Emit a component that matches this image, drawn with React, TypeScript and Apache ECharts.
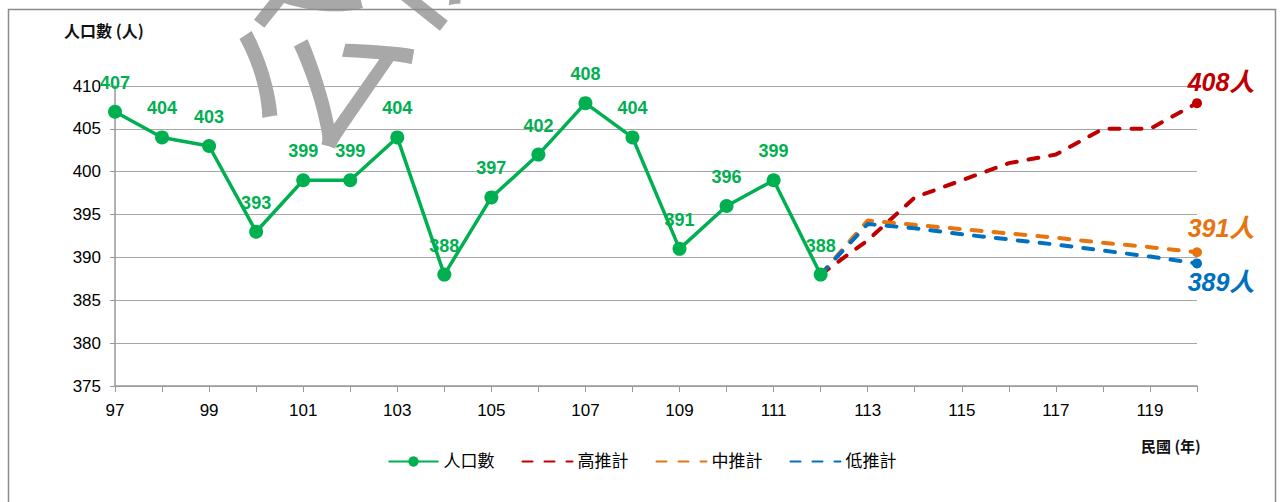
import React, { useEffect, useRef } from "react";
import * as echarts from "echarts";

const years = [97, 98, 99, 100, 101, 102, 103, 104, 105, 106, 107, 108, 109, 110, 111, 112];
const population = [407, 404, 403, 393, 399, 399, 404, 388, 397, 402, 408, 404, 391, 396, 399, 388];
const projYears = [112, 113, 114, 115, 116, 117, 118, 119, 120];
const highProj = [388, 392, 397, 399, 401, 402, 405, 405, 408];
const midProj = [388, 394.3, 393.8, 393.3, 392.8, 392.3, 391.7, 391.2, 390.6];
const lowProj = [388, 393.9, 393.4, 392.7, 392.1, 391.5, 390.8, 390.1, 389.3];
const endLabels = ["408人", "391人", "389人"];
const seriesNames = ["人口數", "高推計", "中推計", "低推計"];

const GREEN = "#00B050";
const RED = "#C00000";
const ORANGE = "#E8740F";
const BLUE = "#0070C0";
const LATIN = "'Liberation Sans', Arial, sans-serif";
const CJK = "'Liberation Sans', 'Noto Sans CJK TC', sans-serif";

function pairs(xs: number[], ys: number[]) {
  return xs.map((x, i) => [x, ys[i]]);
}

export default function App() {
  const ref = useRef<HTMLDivElement>(null);
  useEffect(() => {
    if (!ref.current) return;
    const chart = echarts.init(ref.current, null, { renderer: "svg" });
    const dashed = (color: string) => ({
      color,
      width: 4,
      type: [10, 12] as any,
      cap: "round" as any,
    });
    const lastX = projYears[projYears.length - 1];
    const endPoint = (name: string, val: number, color: string, text: string, offset: number[]) => ({
      name: name + "_end",
      type: "scatter",
      data: [[lastX, val]],
      symbol: "circle",
      symbolSize: 10,
      itemStyle: { color, opacity: 1 },
      z: 5,
      label: {
        show: true,
        formatter: text,
        position: "inside",
        offset,
        color,
        opacity: 1,
        fontSize: 25,
        fontStyle: "italic",
        fontWeight: "bold",
        fontFamily: CJK,
      },
    });
    chart.setOption({
      animation: false,
      backgroundColor: "#fff",
      grid: { left: 115, right: 87, top: 86, bottom: 116, containLabel: false },
      legend: {
        data: [
          { name: seriesNames[0] },
          { name: seriesNames[1], itemStyle: { opacity: 0 } },
          { name: seriesNames[2], itemStyle: { opacity: 0 } },
          { name: seriesNames[3], itemStyle: { opacity: 0 } },
        ],
        left: "center",
        top: 448,
        itemWidth: 50,
        itemHeight: 13,
        itemGap: 27,
        textStyle: { fontSize: 17, color: "#000", fontFamily: CJK },
      },
      xAxis: {
        type: "value",
        min: 97,
        max: 120,
        interval: 1,
        axisLine: { show: true, lineStyle: { color: "#999", width: 1.5 } },
        axisTick: { show: true, length: 6, lineStyle: { color: "#999" } },
        splitLine: { show: false },
        axisLabel: {
          formatter: (v: number) => (v % 2 === 1 && v < 120 ? String(v) : ""),
          color: "#000",
          fontSize: 17,
          fontFamily: LATIN,
          margin: 16,
          showMaxLabel: true,
        },
      },
      yAxis: {
        type: "value",
        min: 375,
        max: 410,
        interval: 5,
        axisLine: { show: true, lineStyle: { color: "#999", width: 1.5 } },
        axisTick: { show: true, length: 5, lineStyle: { color: "#999" } },
        splitLine: { show: true, lineStyle: { color: "#a6a6a6", width: 1.2 } },
        axisLabel: { color: "#000", fontSize: 17, fontFamily: LATIN, margin: 14 },
      },
      graphic: [
        {
          type: "rect",
          shape: { x: 8.5, y: 9.5, width: 1267, height: 520 },
          style: { fill: "none", stroke: "#8c8c8c", lineWidth: 1.5 },
          silent: true,
          z: 2,
        },
        {
          type: "text",
          left: 64,
          top: 22,
          style: { text: "人口數 (人)", fill: "#111", font: "bold 16px 'Noto Sans CJK TC', sans-serif" },
        },
        {
          type: "text",
          left: 1141,
          top: 438,
          style: { text: "民國 (年)", fill: "#111", font: "bold 15px 'Noto Sans CJK TC', sans-serif" },
        },
        {
          type: "text",
          x: 256,
          y: 121,
          rotation: 0.9,
          z: 1,
          silent: true,
          style: {
            text: "公開",
            fill: "#a8a8a8",
            font: "170px 'Noto Sans CJK TC', sans-serif",
            align: "left",
            verticalAlign: "middle",
          },
        },
      ],
      series: [
        {
          name: "人口數",
          type: "line",
          data: pairs(years, population),
          symbol: "circle",
          symbolSize: 14,
          z: 4,
          lineStyle: { color: GREEN, width: 3.5 },
          itemStyle: { color: GREEN },
          label: {
            show: true,
            position: "top",
            distance: 13,
            color: GREEN,
            fontSize: 18,
            fontWeight: "bold",
            fontFamily: LATIN,
            formatter: (p: any) => String(p.value[1]),
          },
        },
        {
          name: "高推計",
          type: "line",
          data: pairs(projYears, highProj),
          symbol: "none",
          itemStyle: { color: RED },
          lineStyle: dashed(RED),
          z: 3,
        },
        {
          name: "中推計",
          type: "line",
          data: pairs(projYears, midProj),
          symbol: "none",
          itemStyle: { color: ORANGE },
          lineStyle: dashed(ORANGE),
          z: 3,
        },
        {
          name: "低推計",
          type: "line",
          data: pairs(projYears, lowProj),
          symbol: "none",
          itemStyle: { color: BLUE },
          lineStyle: dashed(BLUE),
          z: 3,
        },
        endPoint("高推計", highProj[highProj.length - 1], RED, endLabels[0], [24, -21]),
        endPoint("中推計", midProj[midProj.length - 1], ORANGE, endLabels[1], [24, -24]),
        endPoint("低推計", lowProj[lowProj.length - 1], BLUE, endLabels[2], [24, 19]),
      ],
    });
    return () => chart.dispose();
  }, []);
  return <div ref={ref} style={{ position: "absolute", left: 0, top: 0, width: 1284, height: 502 }} />;
}
